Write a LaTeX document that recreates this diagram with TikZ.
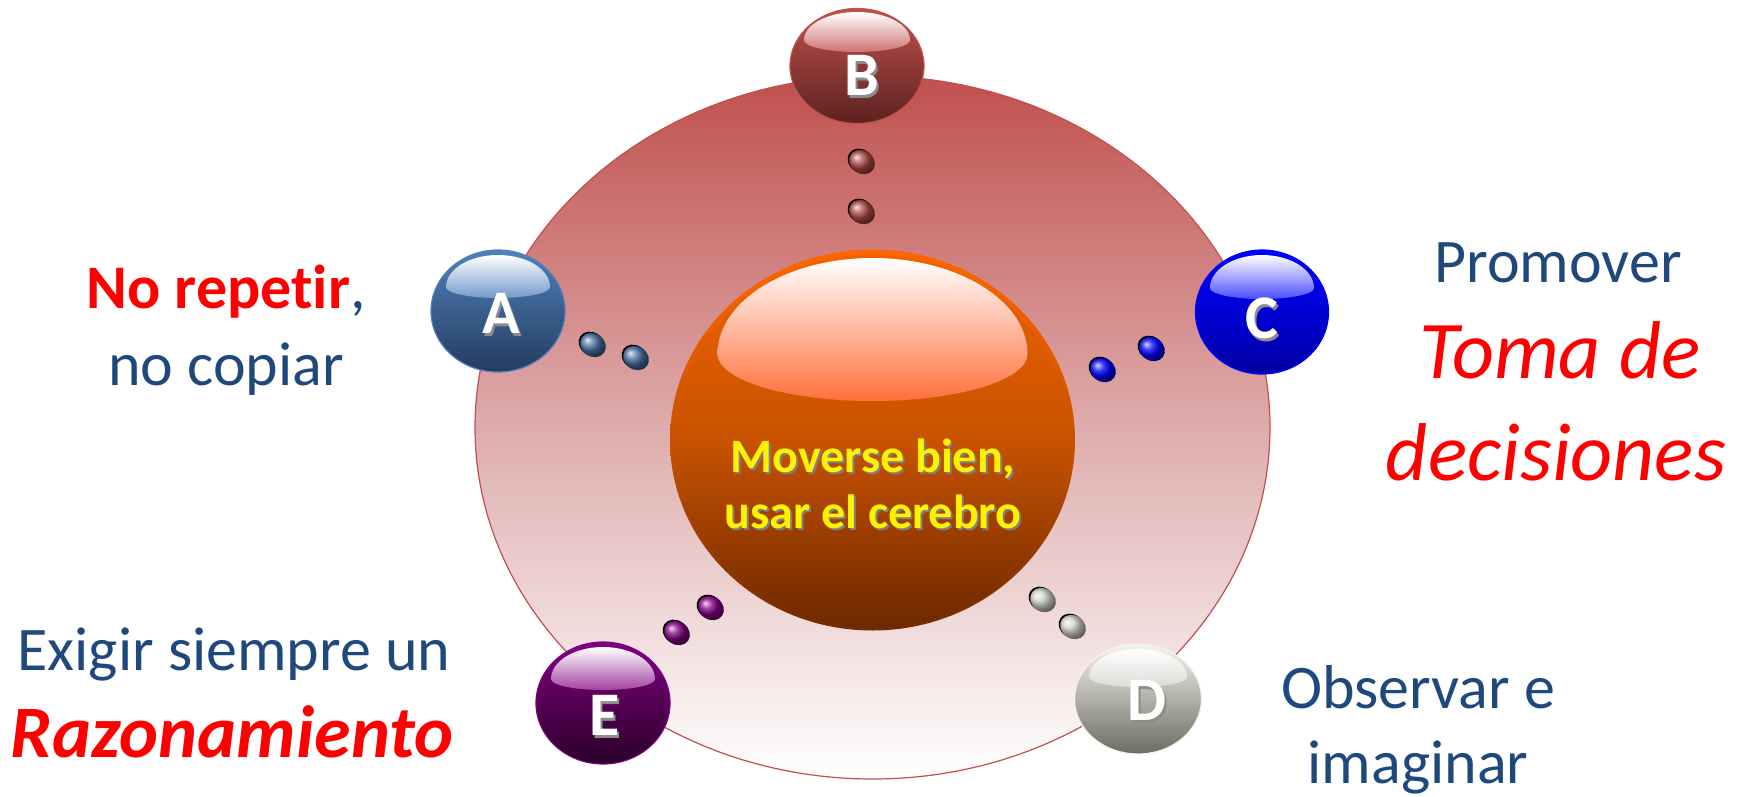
\documentclass[tikz,border=0pt]{standalone}
\usepackage{fontspec}
\setmainfont[Ligatures=NoCommon]{Carlito}
\usetikzlibrary{shapes.geometric}
\definecolor{txtblue}{RGB}{31,73,125}
\definecolor{ringtop}{RGB}{192,80,77}
\definecolor{ringmid}{RGB}{222,172,172}
\definecolor{ringbot}{RGB}{255,255,255}
\definecolor{Atop}{RGB}{80,128,188}
\definecolor{Abot}{RGB}{36,60,94}
\definecolor{Btop}{RGB}{192,80,77}
\definecolor{Bbot}{RGB}{92,34,32}
\definecolor{Ctop}{RGB}{0,0,255}
\definecolor{Cbot}{RGB}{0,0,165}
\definecolor{Dtop}{RGB}{244,244,238}
\definecolor{Dbot}{RGB}{108,108,98}
\definecolor{Etop}{RGB}{130,0,130}
\definecolor{Ebot}{RGB}{40,0,40}
\definecolor{Otop}{RGB}{240,98,0}
\definecolor{Omid}{RGB}{200,82,0}
\definecolor{Obot}{RGB}{115,42,0}
\definecolor{Oring}{RGB}{255,102,0}
\definecolor{Oglow}{RGB}{255,112,60}
\tikzset{
  ball/.style={ellipse, inner sep=0pt, line width=1.2pt},
  lettr/.style={anchor=base, inner sep=0pt, text=white, font=\fontsize{62}{70}\selectfont\bfseries},
  lettrsh/.style={lettr, text=black!45},
  lbl/.style={anchor=base, inner sep=0pt, text=txtblue, font=\fontsize{62}{74}\selectfont},
  ctr/.style={anchor=base, inner sep=0pt, text=yellow, font=\fontsize{48}{56}\selectfont\bfseries},
  ctrsh/.style={ctr, text=black!50},
}
% highlight dome: node, half width, dy, top height, bottom height, bottom colour
\newcommand{\gloss}[6]{%
  \shade[top color=white, bottom color=#6]
    ([shift={(-#2,#3)}]#1.center)
    arc[start angle=180, end angle=0, x radius=#2pt, y radius=#4pt]
    arc[start angle=0, end angle=-180, x radius=#2pt, y radius=#5pt] -- cycle;}
% small bead
\newcommand{\bead}[3]{%
  \fill[black] (#1-1.5,#2-1.2) ellipse[x radius=13.5pt, y radius=11.5pt, rotate=-35];
  \shade[ball color=#3] (#1,#2) ellipse[x radius=13.5pt, y radius=11.5pt, rotate=-35];}
\begin{document}
\begin{tikzpicture}[x=1pt,y=-1pt]
\useasboundingbox (0,0) rectangle (1751,796);
\fill[white] (0,0) rectangle (1751,796);

% big ring
\node[ellipse, inner sep=0pt, draw=ringtop, line width=1.2pt,
      top color=ringtop, bottom color=ringbot, middle color=ringmid,
      minimum width=795pt, minimum height=703pt] (ring) at (872.5,427.5) {};

% central sphere
\node[ellipse, inner sep=0pt, top color=Oring, bottom color=Obot, middle color=Omid,
      minimum width=405pt, minimum height=381pt] (core0) at (872.5,440) {};
\node[ellipse, inner sep=0pt, top color=Otop, bottom color=Obot!95!black, middle color=Omid,
      minimum width=397pt, minimum height=373pt] (core) at (872.5,441) {};
\gloss{core}{155}{-87}{96}{47}{Oglow}
\node[ctrsh] at (875,474) {Moverse bien,};
\node[ctrsh] at (875,530) {usar el cerebro};
\node[ctr] (c1) at (873,472) {Moverse bien,};
\node[ctr] (c2) at (873,528) {usar el cerebro};

% beads
\bead{593}{345}{Atop!85!black}
\bead{636}{358}{Atop!85!black}
\bead{862}{162}{Btop!90!black}
\bead{862}{212}{Btop!90!black}
\bead{1152}{349}{Ctop}
\bead{1103}{370}{Ctop}
\bead{1043}{600}{Dtop!85!black}
\bead{1073}{627}{Dtop!85!black}
\bead{711}{608}{Etop}
\bead{677}{633}{Etop}

% outer spheres
\node[ball, draw=Atop, top color=Atop, bottom color=Abot, minimum width=134pt, minimum height=122pt] (A) at (498,311) {};
\node[ball, draw=Btop, top color=Btop, bottom color=Bbot, minimum width=134pt, minimum height=115pt] (B) at (857,66) {};
\node[ball, draw=Ctop, top color=Ctop, bottom color=Cbot, minimum width=133pt, minimum height=124pt] (C) at (1262,312) {};
\node[ball, draw=Dtop, top color=Dtop, bottom color=Dbot, minimum width=127pt, minimum height=110pt] (D) at (1138,699) {};
\node[ball, draw=Etop, top color=Etop, bottom color=Ebot, minimum width=134pt, minimum height=122pt] (E) at (603,703) {};

\gloss{A}{52}{-24}{32}{11}{Atop!80!white}
\gloss{B}{53}{-26}{28}{12}{Btop!80!white}
\gloss{C}{52}{-24}{33}{11}{Ctop!70!white}
\gloss{D}{49}{-22}{28}{10}{Dtop!90!black}
\gloss{E}{52}{-24}{32}{11}{Etop!75!white}

\node[lettrsh] at (503,336) {A};
\node[lettr] (lA) at (501,333) {A};
\node[lettrsh] at (864,98) {B};
\node[lettr] (lB) at (862,95) {B};
\node[lettrsh] at (1264,341) {C};
\node[lettr] (lC) at (1262,338) {C};
\node[lettrsh] at (1149,723) {D};
\node[lettr] (lD) at (1147,720) {D};
\node[lettrsh] at (607,738) {E};
\node[lettr] (lE) at (605,735) {E};

% texts
\node[lbl] (tA1) at (226,308) {\textcolor{red}{\bfseries No repetir},};
\node[lbl] (tA2) at (226,385) {no copiar};
\node[lbl] (tC1) at (1558,282) {Promover};
\node[lbl, text=red, font=\fontsize{82}{96}\selectfont\itshape] (tC2) at (1560,378) {Toma de};
\node[lbl, text=red, font=\fontsize{82}{96}\selectfont\itshape] (tC3) at (1556,480) {decisiones};
\node[lbl] (tE1) at (234,670) {Exigir siempre un};
\node[lbl, text=red, font=\fontsize{74}{86}\selectfont\bfseries\itshape] (tE2) at (232,757) {Razonamiento};
\node[lbl] (tD1) at (1418,708) {Observar e};
\node[lbl] (tD2) at (1418,783) {imaginar};
\end{tikzpicture}
\end{document}
